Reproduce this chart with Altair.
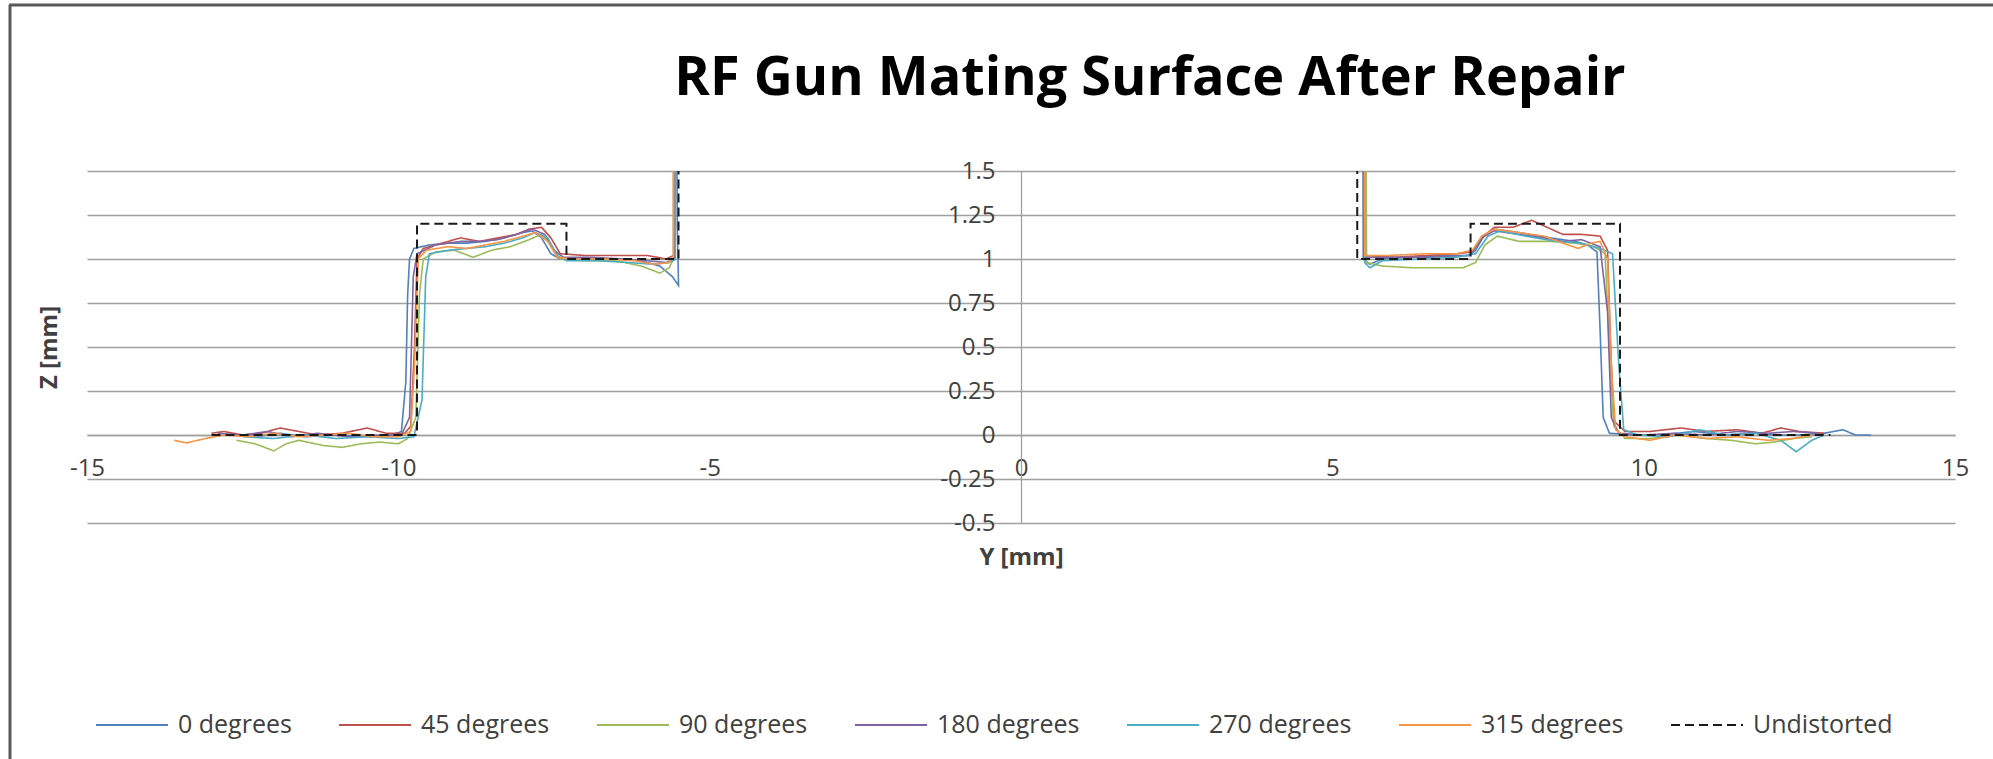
import altair as alt
import pandas as pd

SERIES = ["0 degrees", "45 degrees", "90 degrees", "180 degrees",
          "270 degrees", "315 degrees", "Undistorted"]
COLORS = ["#4F81BD", "#C0504D", "#9BBB59", "#8064A2", "#4BACC6", "#F79646", "#1A1A1A"]
DASHES = [[1, 0], [1, 0], [1, 0], [1, 0], [1, 0], [1, 0], [9, 5]]

X_TICKS = [-15, -10, -5, 0, 5, 10, 15]
Y_TICKS = [-0.5, -0.25, 0, 0.25, 0.5, 0.75, 1, 1.25, 1.5]

# 0 degrees
Y_0 = [-12.7, -12.3, -11.9, -11.5, -11.0, -10.5, -10.1, -9.95, -9.88, -9.85,
       -9.82, -9.75, -9.5, -9.2, -8.9, -8.6, -8.3, -8.0, -7.85, -7.7,
       -7.55, -7.4, -7.0, -6.5, -6.1, -5.8, -5.6, -5.5, -5.52, -5.55,
       5.48, 5.5, 5.6, 5.8, 6.3, 6.8, 7.2, 7.3, 7.45, 7.6,
       8.0, 8.5, 8.9, 9.1, 9.25, 9.3, 9.35, 9.45, 9.8, 10.3,
       10.8, 11.3, 11.8, 12.2, 12.5, 12.9, 13.2, 13.4, 13.65]
Z_0 = [0.00, -0.01, 0.01, -0.01, 0.00, -0.01, 0.00, 0.02, 0.3, 0.8,
       1.0, 1.06, 1.08, 1.09, 1.09, 1.10, 1.12, 1.15, 1.16, 1.12,
       1.03, 1.0, 1.0, 1.0, 0.99, 0.96, 0.9, 0.85, 1.2, 3.0,
       3.0, 1.0, 0.97, 1.0, 1.01, 1.02, 1.02, 1.05, 1.14, 1.17,
       1.15, 1.12, 1.1, 1.08, 1.04, 0.6, 0.1, 0.01, 0.0, 0.0,
       0.02, 0.0, 0.01, 0.0, 0.0, 0.01, 0.03, 0.0, 0.0]

# 45 degrees
Y_45 = [-13.0, -12.8, -12.5, -12.2, -11.9, -11.6, -11.3, -10.9, -10.5, -10.2,
        -9.9, -9.8, -9.74, -9.7, -9.6, -9.3, -9.0, -8.7, -8.4, -8.1,
        -7.9, -7.7, -7.55, -7.4, -7.0, -6.5, -6.0, -5.7, -5.58, -5.58,
        5.52, 5.52, 6.0, 6.5, 7.0, 7.25, 7.4, 7.6, 7.9, 8.2,
        8.45, 8.7, 9.0, 9.3, 9.42, 9.47, 9.52, 9.7, 10.1, 10.6,
        11.0, 11.5, 11.9, 12.2, 12.5, 12.9]
Z_45 = [0.01, 0.02, 0.00, 0.01, 0.04, 0.02, 0.00, 0.01, 0.04, 0.01,
        0.01, 0.05, 0.5, 1.0, 1.06, 1.09, 1.12, 1.10, 1.12, 1.14,
        1.17, 1.18, 1.12, 1.03, 1.02, 1.02, 1.02, 1.0, 1.02, 3.0,
        3.0, 1.02, 1.01, 1.02, 1.03, 1.04, 1.12, 1.18, 1.18, 1.22,
        1.18, 1.14, 1.14, 1.13, 1.05, 0.5, 0.08, 0.02, 0.02, 0.04,
        0.02, 0.03, 0.01, 0.04, 0.02, 0.01]

# 90 degrees
Y_90 = [-12.6, -12.3, -12.0, -11.8, -11.6, -11.2, -10.9, -10.6, -10.3, -10.0,
        -9.85, -9.72, -9.66, -9.6, -9.4, -9.1, -8.8, -8.5, -8.2, -7.9,
        -7.7, -7.55, -7.4, -7.0, -6.5, -6.1, -5.8, -5.65, -5.58, -5.58,
        5.52, 5.55, 5.8, 6.3, 6.8, 7.1, 7.3, 7.45, 7.65, 8.0,
        8.5, 8.9, 9.2, 9.38, 9.45, 9.52, 9.7, 10.1, 10.6, 11.0,
        11.4, 11.8, 12.1, 12.4, 12.7]
Z_90 = [-0.03, -0.05, -0.09, -0.05, -0.03, -0.06, -0.07, -0.05, -0.04, -0.05,
        -0.02, 0.1, 0.8, 1.0, 1.04, 1.05, 1.01, 1.05, 1.07, 1.11,
        1.14, 1.08, 1.0, 0.99, 0.99, 0.96, 0.92, 0.95, 1.0, 3.0,
        3.0, 0.98, 0.96, 0.95, 0.95, 0.95, 0.98, 1.08, 1.13, 1.1,
        1.1, 1.09, 1.07, 1.03, 0.5, 0.05, -0.02, -0.02, 0.0, -0.02,
        -0.03, -0.05, -0.04, -0.02, -0.01]

# 180 degrees
Y_180 = [-12.9, -12.5, -12.1, -11.7, -11.3, -10.8, -10.3, -9.95, -9.82, -9.76,
         -9.7, -9.4, -9.0, -8.7, -8.4, -8.1, -7.85, -7.65, -7.5, -7.35,
         -6.9, -6.4, -6.0, -5.7, -5.56, -5.56,
         5.5, 5.5, 6.0, 6.6, 7.2, 7.4, 7.6, 8.0, 8.4, 8.7,
         9.0, 9.3, 9.42, 9.48, 9.6, 10.0, 10.5, 11.0, 11.5, 12.0,
         12.4, 12.8]
Z_180 = [0.01, 0.0, 0.02, -0.01, 0.01, -0.01, 0.0, 0.0, 0.1, 0.9,
         1.03, 1.08, 1.1, 1.1, 1.11, 1.14, 1.17, 1.14, 1.05, 1.01,
         1.01, 1.0, 0.99, 0.98, 1.0, 3.0,
         3.0, 1.01, 1.01, 1.01, 1.02, 1.12, 1.16, 1.14, 1.12, 1.1,
         1.11, 1.07, 0.7, 0.1, 0.01, 0.0, 0.01, 0.0, 0.02, 0.01,
         0.02, 0.01]

# 270 degrees
Y_270 = [-12.5, -12.0, -11.5, -11.0, -10.5, -10.0, -9.75, -9.62, -9.56, -9.5,
         -9.2, -8.9, -8.6, -8.3, -8.0, -7.8, -7.6, -7.45, -7.3, -6.8,
         -6.3, -5.9, -5.65, -5.55, -5.55,
         5.5, 5.52, 5.6, 5.8, 6.4, 7.0, 7.3, 7.5, 7.7, 8.1,
         8.6, 9.0, 9.3, 9.5, 9.6, 9.68, 9.9, 10.4, 10.9, 11.3,
         11.8, 12.2, 12.45, 12.7, 12.9]
Z_270 = [-0.01, -0.02, 0.0, -0.02, -0.01, -0.02, -0.01, 0.2, 0.9, 1.03,
         1.05, 1.06, 1.07, 1.09, 1.12, 1.15, 1.12, 1.02, 0.99, 0.99,
         0.98, 0.97, 0.98, 1.0, 3.0,
         3.0, 0.98, 0.95, 0.99, 1.0, 1.01, 1.03, 1.13, 1.16, 1.13,
         1.1, 1.09, 1.06, 1.03, 0.4, 0.03, 0.0, -0.01, 0.03, 0.0,
         0.01, -0.03, -0.095, -0.03, 0.0]

# 315 degrees
Y_315 = [-13.6, -13.4, -13.1, -12.8, -12.4, -12.0, -11.6, -11.2, -10.8, -10.4,
         -10.0, -9.8, -9.74, -9.68, -9.55, -9.2, -8.9, -8.6, -8.3, -8.0,
         -7.8, -7.6, -7.45, -7.2, -6.7, -6.2, -5.9, -5.65, -5.58, -5.58,
         5.52, 5.52, 5.9, 6.5, 7.0, 7.25, 7.4, 7.6, 8.0, 8.4,
         8.7, 8.95, 9.15, 9.3, 9.42, 9.48, 9.55, 9.7, 10.1, 10.5,
         11.0, 11.5, 12.0, 12.4, 12.7]
Z_315 = [-0.03, -0.045, -0.02, 0.0, -0.01, 0.01, -0.01, 0.0, 0.01, -0.01,
         -0.01, 0.02, 0.4, 1.0, 1.05, 1.07, 1.06, 1.08, 1.1, 1.13,
         1.15, 1.1, 1.01, 1.0, 1.0, 0.99, 0.97, 0.98, 1.02, 3.0,
         3.0, 1.02, 1.02, 1.03, 1.03, 1.05, 1.13, 1.17, 1.15, 1.13,
         1.09, 1.06, 1.09, 1.1, 1.0, 0.4, 0.03, -0.01, -0.03, 0.0,
         -0.02, -0.01, -0.03, -0.02, 0.0]

# Undistorted profile
Y_U = [-13.0, -9.7, -9.7, -7.3, -7.3, -5.5, -5.5, 5.4, 5.4, 7.22, 7.22, 9.62, 9.62, 13.0]
Z_U = [0, 0, 1.2, 1.2, 1.0, 1.0, 3.0, 3.0, 1.0, 1.0, 1.2, 1.2, 0, 0]

PAIRS = [(Y_0, Z_0), (Y_45, Z_45), (Y_90, Z_90), (Y_180, Z_180),
         (Y_270, Z_270), (Y_315, Z_315), (Y_U, Z_U)]

rows = []
for name, (ys, zs) in zip(SERIES, PAIRS):
    assert len(ys) == len(zs), name
    for i, (a, b) in enumerate(zip(ys, zs)):
        rows.append({"series": name, "i": i, "y_mm": a, "z_mm": b})
df = pd.DataFrame(rows)
measured = df[df["series"] != "Undistorted"]
undist = df[df["series"] == "Undistorted"]

FONT = "Open Sans"
GRID = "#A0A0A0"
TXT = "#404040"

legend = alt.Legend(
    title=None, orient="none", direction="horizontal", columns=7,
    legendX=8, legendY=517, padding=0,
    symbolType="stroke", symbolSize=5184, symbolStrokeWidth=2,
    labelFont=FONT, labelFontSize=25, labelColor=TXT, labelOffset=9,
    columnPadding=43, labelLimit=400,
)

color = alt.Color("series:N", scale=alt.Scale(domain=SERIES, range=COLORS), legend=legend)
dash = alt.StrokeDash("series:N", scale=alt.Scale(domain=SERIES, range=DASHES), legend=legend)

x_enc = alt.X(
    "y_mm:Q",
    scale=alt.Scale(domain=[-15, 15], nice=False, zero=False),
    axis=alt.Axis(
        values=X_TICKS, offset=-88, grid=False, ticks=False, tickSize=0,
        domainColor=GRID, domainWidth=1.6,
        labelFont=FONT, labelFontSize=24, labelColor=TXT, labelPadding=33,
        labelBaseline="middle", labelFlush=False, labelOverlap=False,
        labelExpr="'' + datum.value",
        title="Y [mm]", titleFont=FONT, titleFontSize=24, titleFontWeight="bold",
        titleColor=TXT, titleX=934, titleY=122, titleBaseline="middle", titleAlign="center",
    ),
)
y_enc = alt.Y(
    "z_mm:Q",
    scale=alt.Scale(domain=[-0.5, 1.5], nice=False, zero=False),
    axis=alt.Axis(
        values=Y_TICKS, offset=-934, grid=True, gridColor=GRID, gridWidth=1.7,
        ticks=False, tickSize=0, domainColor=GRID, domainWidth=1.3,
        labelFont=FONT, labelFontSize=24, labelColor=TXT, labelPadding=26,
        labelOverlap=False, labelFlush=False,
        labelExpr="'' + datum.value",
        title="Z [mm]", titleFont=FONT, titleFontSize=24, titleFontWeight="bold",
        titleColor=TXT, titleX=-972, titleY=176, titleAngle=270,
        titleBaseline="middle", titleAlign="center",
    ),
)

lines = alt.Chart(measured).mark_line(clip=True, strokeWidth=1.6).encode(
    x=x_enc, y=y_enc, color=color, strokeDash=dash, order=alt.Order("i:Q"),
)
ref = alt.Chart(undist).mark_line(clip=True, strokeWidth=2).encode(
    x=alt.X("y_mm:Q"), y=alt.Y("z_mm:Q"), color=color, strokeDash=dash,
    order=alt.Order("i:Q"),
)

one = pd.DataFrame({"k": [0]})
border_left = alt.Chart(one).mark_rule(stroke="#595959", strokeWidth=3).encode(
    x=alt.value(-77), y=alt.value(-166), y2=alt.value(640)
)
border_top = alt.Chart(one).mark_rule(stroke="#595959", strokeWidth=3).encode(
    x=alt.value(-78), x2=alt.value(1906), y=alt.value(-166)
)

chart = alt.layer(border_left, border_top, lines, ref).properties(
    width=1868, height=352,
    title=alt.TitleParams(
        "RF Gun Mating Surface After Repair", font=FONT, fontSize=54,
        fontWeight="bold", color="#000000", anchor="middle", frame="group",
        baseline="alphabetic", offset=0, dx=129, dy=145,
    ),
    padding={"left": 87, "top": 171, "right": 38, "bottom": 236},
    autosize=alt.AutoSizeParams(type="none"),
    background="white",
).configure_view(stroke=None)

chart.save("out.html", embed_options={"renderer": "svg", "actions": False})
